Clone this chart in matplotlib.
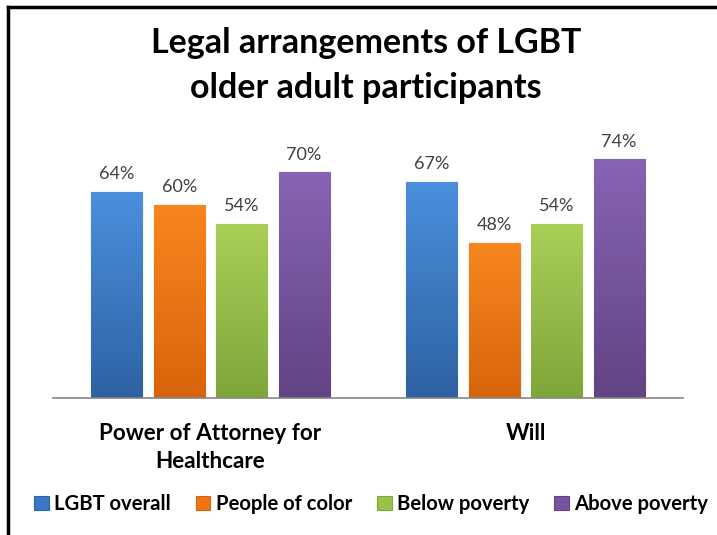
import numpy as np
import matplotlib
matplotlib.use("Agg")
import matplotlib.pyplot as plt
from matplotlib.colors import LinearSegmentedColormap
from matplotlib.lines import Line2D
from matplotlib.patches import Patch

plt.rcParams["font.family"] = ["Lato", "DejaVu Sans"]

categories = ["Power of Attorney for\nHealthcare", "Will"]
series = ["LGBT overall", "People of color", "Below poverty", "Above poverty"]
lgbt_overall = [64, 67]
people_of_color = [60, 48]
below_poverty = [54, 54]
above_poverty = [70, 74]

# (top, bottom) shades for the vertical gradient, plus a flat colour for edges/legend
COLORS = [("#4b8fdd", "#2d62a3", "#3a77c4"),
          ("#f7861f", "#d8640b", "#f07414"),
          ("#a9cf58", "#7fa63a", "#98c24a"),
          ("#8764b3", "#624384", "#7654a0")]

fig = plt.figure(figsize=(7.17, 5.35), dpi=100)
ax = fig.add_axes([53 / 717, 1 - 398 / 535, 630 / 717, 258 / 535])

x = np.arange(len(categories))
width, pitch = 0.162, 0.198
offsets = (np.arange(4) - 1.5) * pitch
grad = np.linspace(0, 1, 128).reshape(-1, 1)

for vals, off, (top, bot, flat) in zip(
        [lgbt_overall, people_of_color, below_poverty, above_poverty], offsets, COLORS):
    bars = ax.bar(x + off, vals, width, color=flat, edgecolor=bot, linewidth=0.8, zorder=2)
    cmap = LinearSegmentedColormap.from_list("g", [bot, top])
    for b, v in zip(bars, vals):
        x0 = b.get_x()
        im = ax.imshow(grad, extent=[x0, x0 + b.get_width(), 0, v], origin="lower",
                       cmap=cmap, aspect="auto", zorder=3)
        im.set_clip_path(b)
        ax.annotate("%d%%" % v, (b.get_x() + b.get_width() / 2, v), xytext=(0, 7),
                    textcoords="offset points", ha="center", va="bottom",
                    fontsize=13, color="#404040")

ax.set_xlim(-0.5, 1.5)
ax.set_ylim(0, 80)
ax.set_yticks([])
ax.set_xticks(x)
ax.set_xticklabels(categories, fontsize=16.2, fontweight="bold", linespacing=1.42)
ax.tick_params(axis="x", length=0, pad=18)
for s in ("left", "right", "top"):
    ax.spines[s].set_visible(False)
ax.spines["bottom"].set_color("#868686")
ax.spines["bottom"].set_linewidth(1.2)
ax.spines["bottom"].set_zorder(4)

fig.text(366 / 717, 1 - 53 / 535, "Legal arrangements of LGBT", ha="center",
         va="baseline", fontsize=24.5, fontweight="bold")
fig.text(366 / 717, 1 - 98 / 535, "older adult participants", ha="center",
         va="baseline", fontsize=24.5, fontweight="bold")

handles = [Patch(facecolor=c[2], edgecolor=c[1], linewidth=0.8) for c in COLORS]
fig.legend(handles, series, loc="center", bbox_to_anchor=(371 / 717, 1 - 504 / 535),
           ncol=4, frameon=False, prop={"size": 14.6, "weight": "bold"},
           handlelength=0.72, handleheight=0.72, handletextpad=0.25, columnspacing=1.25,
           borderaxespad=0)

# the chart's outer frame: only the left and top edges are inside the crop
fig.add_artist(Line2D([8 / 717, 8 / 717], [0, 1 - 7 / 535], color="black", lw=2.5))
fig.add_artist(Line2D([8 / 717, 1], [1 - 7 / 535, 1 - 7 / 535], color="black", lw=2.5))

fig.savefig("out.png", dpi=100, facecolor="white")
